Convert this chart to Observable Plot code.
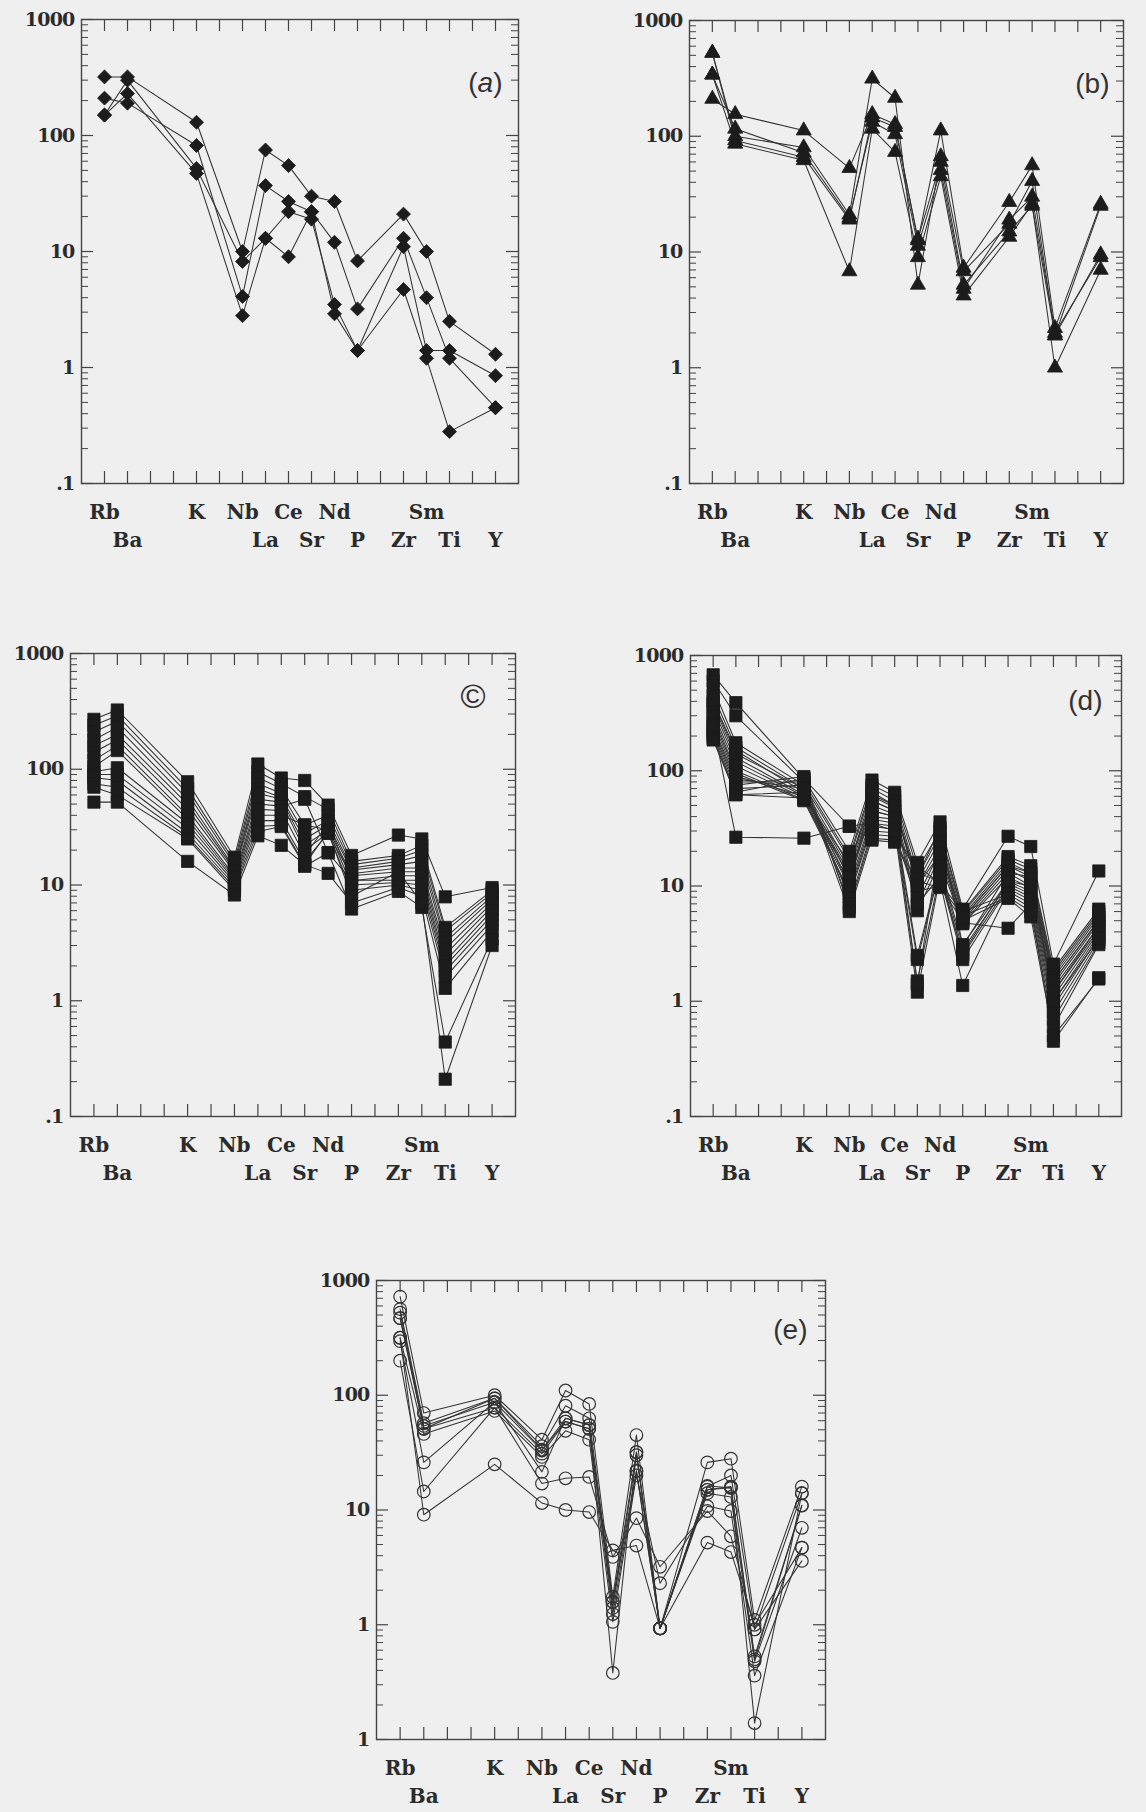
<!DOCTYPE html>
<html>
<head>
<meta charset="utf-8">
<script src="https://cdn.jsdelivr.net/npm/d3@7"></script>
<script src="https://cdn.jsdelivr.net/npm/@observablehq/plot@0.6"></script>
<style>
  html, body { margin: 0; padding: 0; background: #efefef; }
  #page { position: relative; width: 1146px; height: 1812px; overflow: hidden; background: #efefef; }
  #page svg { position: absolute; overflow: visible; max-width: none; }
</style>
</head>
<body>
<div id="page"></div>
<script>
// ---------- axis categories & tick labels ----------
const tickSlots = ["Rb","Ba","","","K","","Nb","La","Ce","Sr","Nd","P","","Zr","Sm","Ti","","Y"];
const elements = ["Rb","Ba","K","Nb","La","Ce","Sr","Nd","P","Zr","Sm","Ti","Y"];
const upperRowLabels = ["Rb","K","Nb","Ce","Nd","Sm"];
const lowerRowLabels = ["Ba","La","Sr","P","Zr","Ti","Y"];
const yTickValues = [0.1, 1, 10, 100, 1000];
const yTickLabels = [".1", "1", "10", "100", "1000"];
const yTickLabelsE = ["1", "1", "10", "100", "1000"];
const panelLabels = ["(a)", "(b)", "\u00A9", "(d)", "(e)"];

// ---------- values: one row per element (order of `elements`), one column per sample ----------
const panelA = [
  [320, 210, 150, 150],      // Rb
  [320, 190, 300, 230],      // Ba
  [130, 82, 52, 47],         // K
  [10, 4.1, 8.2, 2.8],       // Nb
  [75, 37, 13, 13],          // La
  [55, 27, 22, 9],           // Ce
  [30, 22, 19, 22],          // Sr
  [27, 12, 3.5, 2.9],        // Nd
  [8.3, 3.2, 1.4, 1.4],      // P
  [21, 13, 11, 4.7],         // Zr
  [10, 4.0, 1.4, 1.2],       // Sm
  [2.5, 1.2, 1.4, 0.28],     // Ti
  [1.3, 0.45, 0.85, 0.45]    // Y
];

const panelB = [
  [210, 525, 340, 340, 525],
  [155, 100, 116, 86, 92],
  [112, 80, 72, 62, 66],
  [53, 21, 19.7, 6.8, 19],
  [155, 314, 133, 116, 145],
  [127, 214, 104, 73, 120],
  [12.6, 5.2, 11.3, 9.0, 13],
  [112, 67, 51, 45, 60],
  [7.3, 6.8, 4.8, 4.2, 5.2],
  [27, 17.5, 19, 13.5, 15],
  [56, 41, 30, 26, 25],
  [2.2, 1.9, 2.0, 1.0, 1.9],
  [26, 25, 9.0, 7.0, 9.5]
];

const panelC = [
  [270, 240, 210, 180, 160, 140, 120, 105, 95, 90, 85, 75, 70, 52],
  [325, 290, 260, 230, 200, 180, 160, 145, 103, 90, 80, 70, 60, 52],
  [78, 68, 62, 55, 50, 45, 40, 37, 34, 31, 28, 26, 25, 16],
  [17.4, 16, 15, 14, 13.5, 13, 12, 11.5, 11, 10.5, 10, 9.5, 9, 8.2],
  [111, 95, 85, 75, 68, 62, 55, 50, 45, 40, 36, 32, 29, 26.6],
  [84, 75, 68, 62, 57, 55, 52, 48, 44, 40, 36, 33, 32, 22],
  [80, 58, 33, 28, 25, 22, 20, 55, 18, 33, 16, 15, 14.5, 15],
  [49, 45, 40, 36, 33, 30, 28, 19, 34, 30, 28, 12.6, 19, 29],
  [18, 16, 15, 14, 13.5, 12.5, 12, 10.9, 11, 10, 9, 7, 6.2, 8],
  [27, 18, 17, 16, 15, 14, 13, 12, 11, 10.5, 10, 9.5, 8.8, 13],
  [25, 22, 20, 18, 16, 14, 13, 12, 11, 10, 9, 8, 6.4, 7],
  [7.9, 4.3, 4, 3.5, 3.2, 2.8, 2.5, 2.2, 2, 1.8, 1.6, 1.28, 0.44, 0.21],
  [9.5, 9, 8.5, 8, 7.5, 7, 6.5, 6, 5.5, 5, 4.5, 4, 3.4, 3.0]
];

const panelD = [
  [680, 600, 520, 450, 400, 380, 350, 320, 300, 280, 260, 240, 230, 220, 210, 200, 190, 185, 250, 400],
  [390, 300, 175, 160, 150, 130, 120, 110, 100, 95, 90, 85, 80, 75, 70, 65, 62, 62, 26.5, 140],
  [85, 80, 75, 70, 65, 62, 60, 58, 56, 55, 60, 70, 80, 89, 75, 85, 65, 58, 26, 70],
  [20, 18, 17, 15, 14, 13, 12, 11, 10, 9, 8.5, 8, 7, 6.5, 6, 33, 12, 16, 33, 10],
  [83, 75, 70, 65, 60, 55, 50, 45, 40, 38, 35, 33, 30, 28, 26, 25, 45, 55, 35, 62],
  [65, 60, 55, 50, 48, 45, 42, 40, 38, 35, 33, 31, 29, 27, 25, 24, 40, 45, 30, 50],
  [16, 14, 12, 11, 10, 8, 7, 6.1, 2.5, 2.3, 1.5, 1.2, 13, 15, 9, 11, 1.4, 12, 7, 10],
  [36, 30, 28, 25, 22, 20, 18, 16, 15, 14, 13, 12, 11, 10.5, 10, 9.7, 24, 32, 12, 19],
  [6.3, 6, 5.8, 5.5, 5.2, 5, 4.8, 4.7, 3.1, 2.8, 2.5, 2.3, 1.37, 6, 5.5, 5, 4.8, 3, 2.6, 5.3],
  [27, 18, 17, 16, 15, 14, 13, 12, 11, 10.5, 10, 9.5, 9, 8.5, 8, 7.8, 4.3, 13, 11, 15],
  [22, 15, 14, 13, 12, 11, 10, 9.5, 9, 8.5, 8, 7.5, 7, 6.5, 6, 5.4, 7, 12, 10, 13],
  [2.1, 1.9, 1.8, 1.7, 1.6, 1.5, 1.4, 1.3, 1.2, 1.1, 1.0, 0.9, 0.8, 0.7, 0.6, 0.5, 0.45, 1.5, 1.2, 1.0],
  [13.5, 6.3, 6, 5.7, 5.4, 5.1, 4.8, 4.5, 4.2, 4.0, 3.8, 3.6, 3.4, 3.2, 3.1, 1.56, 1.6, 5, 4.5, 3.5]
];

const panelE = [
  [724, 563, 525, 470, 317, 296, 200, 317, 470],
  [70, 57, 54, 51, 46, 26, 14.5, 9.1, 51],
  [100, 94, 87, 78, 73, 87, 78, 25, 94],
  [41, 36, 33, 31, 29, 21.5, 17, 11.5, 33.5],
  [110, 81, 63, 59, 49, 63, 18.9, 10, 59],
  [84, 63, 55, 51, 41, 55, 19.4, 9.6, 51],
  [1.75, 1.58, 1.4, 1.24, 1.06, 0.38, 3.9, 4.45, 1.58],
  [45, 32, 30, 22, 20, 32, 8.5, 4.9, 21.8],
  [0.93, 0.93, 0.93, 0.93, 2.3, 0.93, 3.2, 0.93, 0.93],
  [26, 16, 15, 14, 10.8, 15, 9.8, 5.2, 16.2],
  [28, 20, 16, 13, 9.8, 15.6, 5.9, 4.3, 15.6],
  [1.1, 0.91, 0.53, 0.48, 0.36, 0.139, 0.91, 1.0, 0.5],
  [16, 14, 11, 7, 4.7, 14, 3.6, 4.7, 10.9]
];

// ---------- layout / styling ----------
const mL = 70, mR = 14, mT = 14, mB = 80;
const ink = "#2b2b2b";
const axisInk = "#444";
const serif = "'DejaVu Serif', 'Liberation Serif', serif";

const panels = [
  {values: panelA, symbol: "diamond2", r: 6.3, hollow: false, left: 81, top: 19, w: 437, h: 464, label: panelLabels[0], fs: 28, dx: -16, dy: 64, yLabels: yTickLabels},
  {values: panelB, symbol: "triangle", r: 5.6, hollow: false, left: 689, top: 20, w: 434, h: 463, label: panelLabels[1], fs: 28, dx: -14, dy: 64, yLabels: yTickLabels},
  {values: panelC, symbol: "square", r: 6.9, hollow: false, left: 70, top: 653, w: 445, h: 463, label: panelLabels[2], fs: 34, dx: -30, dy: 44, yLabels: yTickLabels},
  {values: panelD, symbol: "square", r: 6.9, hollow: false, left: 690, top: 655, w: 431, h: 461, label: panelLabels[3], fs: 28, dx: -19, dy: 46, yLabels: yTickLabels},
  {values: panelE, symbol: "circle", r: 6.3, hollow: true, left: 376, top: 1280, w: 449, h: 459, label: panelLabels[4], fs: 28, dx: -18, dy: 50, yLabels: yTickLabelsE}
];

function tidy(values) {
  const rows = [];
  values.forEach((col, e) => col.forEach((v, j) => rows.push({slot: tickSlots.indexOf(elements[e]), value: v, sample: j})));
  return rows;
}

const allLogTicks = d3.scaleLog().domain([0.1, 1000]).ticks();
const majorTicks = allLogTicks.filter(t => Math.abs(Math.log10(t) - Math.round(Math.log10(t))) < 1e-9);
const minorTicks = allLogTicks.filter(t => !majorTicks.includes(t));
const slotIndex = tickSlots.map((_, i) => i);

const page = document.getElementById("page");

panels.forEach(p => {
  const rows = tidy(p.values);
  const svg = Plot.plot({
    width: p.w + mL + mR,
    height: p.h + mT + mB,
    marginLeft: mL, marginRight: mR, marginTop: mT, marginBottom: mB,
    x: {type: "linear", domain: [-1, 18], axis: null},
    y: {type: "log", domain: [0.1, 1000], axis: null},
    style: {background: "none", overflow: "visible", maxWidth: "none"},
    marks: [
      Plot.frame({stroke: axisInk, strokeWidth: 1.4}),
      // element ticks, top and bottom, pointing inward
      Plot.tickX(slotIndex, {x: d => d, insetBottom: p.h - 12, stroke: axisInk, strokeWidth: 1.2}),
      Plot.tickX(slotIndex, {x: d => d, insetTop: p.h - 12, stroke: axisInk, strokeWidth: 1.2}),
      // log ticks, left and right, pointing inward
      Plot.tickY(minorTicks, {y: d => d, insetRight: p.w - 7, stroke: axisInk, strokeWidth: 1}),
      Plot.tickY(minorTicks, {y: d => d, insetLeft: p.w - 7, stroke: axisInk, strokeWidth: 1}),
      Plot.tickY(majorTicks, {y: d => d, insetRight: p.w - 12, stroke: axisInk, strokeWidth: 1.2}),
      Plot.tickY(majorTicks, {y: d => d, insetLeft: p.w - 12, stroke: axisInk, strokeWidth: 1.2}),
      // spider lines
      Plot.line(rows, {x: "slot", y: "value", z: "sample", stroke: "#333", strokeWidth: 1.05, curve: "linear"}),
      // markers
      Plot.dot(rows, p.hollow
        ? {x: "slot", y: "value", symbol: () => p.symbol, r: p.r, fill: "none", stroke: "#333", strokeWidth: 1.2}
        : {x: "slot", y: "value", symbol: () => p.symbol, r: p.r, fill: "#1c1c1c", stroke: "#1c1c1c", strokeWidth: 0.8}),
      // y tick labels
      Plot.text(yTickValues, {y: d => d, text: (d, i) => p.yLabels[i], frameAnchor: "left", textAnchor: "end", lineAnchor: "middle", dx: -7, fontSize: 19, fontWeight: "bold", fontFamily: serif, fill: ink}),
      // element labels in two rows
      Plot.text(upperRowLabels, {x: d => tickSlots.indexOf(d), text: d => d, frameAnchor: "bottom", lineAnchor: "bottom", dy: 35, fontSize: 20, fontWeight: "bold", fontFamily: serif, fill: ink}),
      Plot.text(lowerRowLabels, {x: d => tickSlots.indexOf(d), text: d => d, frameAnchor: "bottom", lineAnchor: "bottom", dy: 63, fontSize: 20, fontWeight: "bold", fontFamily: serif, fill: ink}),
      // panel label
      Plot.text([p.label], {text: d => d, frameAnchor: "top-right", textAnchor: "end", lineAnchor: "middle", dx: p.dx, dy: p.dy, fontSize: p.fs, fontFamily: "'Liberation Sans', Arial, sans-serif", fill: "#333"})
    ]
  });
  svg.style.left = (p.left - mL) + "px";
  svg.style.top = (p.top - mT) + "px";
  svg.querySelectorAll("text").forEach(t => {
    // italic letter inside "(a)"
    if (t.textContent === "(a)") t.innerHTML = '(<tspan font-style="italic">a</tspan>)';
    // tighter numerals, as in the printed figure
    if (/^[.\d]+$/.test(t.textContent)) t.style.letterSpacing = "-0.8px";
  });
  page.appendChild(svg);
});
</script>
</body>
</html>
